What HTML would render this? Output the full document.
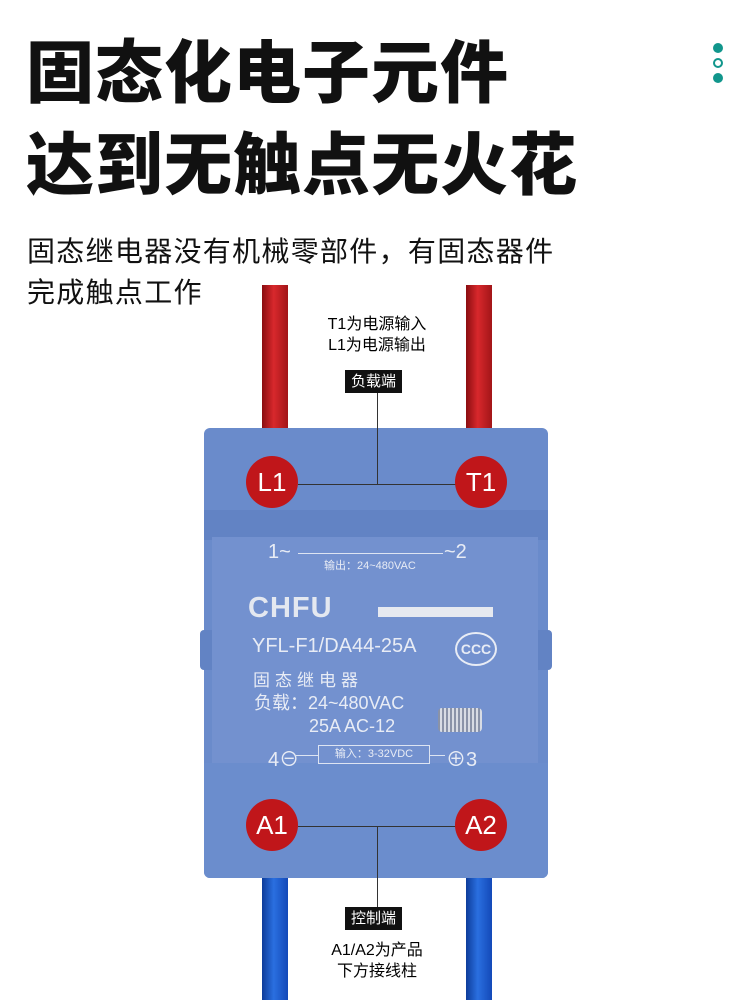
<!DOCTYPE html>
<html><head><meta charset="utf-8"><style>
body{margin:0;width:750px;height:1000px;background:#fff;position:relative;overflow:hidden;font-family:"Liberation Sans","Noto Sans CJK SC",sans-serif}
.a{position:absolute}
.t{font-weight:900;font-size:68px;color:#111;left:26px;letter-spacing:1px;line-height:1}
.s{font-size:28px;color:#111;left:27px;line-height:1;letter-spacing:1.3px}
.wr{background:linear-gradient(90deg,#8a0d10,#d8282c 45%,#a21518);width:26px}
.wb{background:linear-gradient(90deg,#0d3c9a,#2a6fe0 45%,#1349b8);width:26px}
.c{width:52px;height:52px;border-radius:50%;background:#c0161a;color:#fff;font-size:26px;text-align:center;line-height:52px;font-family:"Liberation Sans",sans-serif}
.lb{background:#111;color:#fff;font-size:15px;padding:0 6px;line-height:23px}
.pt{color:#e8ecf5;font-family:"Liberation Sans","Noto Sans CJK SC",sans-serif}
</style></head><body>
<div class="a t" style="top:40px">固态化电子元件</div>
<div class="a t" style="top:132px">达到无触点无火花</div>
<div class="a s" style="top:238px">固态继电器没有机械零部件，有固态器件</div>
<div class="a s" style="top:279px">完成触点工作</div>
<div class="a" style="left:713px;top:43px;width:10px;height:10px;border-radius:50%;background:#11968c"></div>
<div class="a" style="left:713px;top:58px;width:6px;height:6px;border-radius:50%;border:2px solid #11968c"></div>
<div class="a" style="left:713px;top:73px;width:10px;height:10px;border-radius:50%;background:#11968c"></div>

<div class="a wr" style="left:262px;top:285px;height:150px"></div>
<div class="a wr" style="left:466px;top:285px;height:150px"></div>
<div class="a wb" style="left:262px;top:870px;height:130px"></div>
<div class="a wb" style="left:466px;top:870px;height:130px"></div>

<div class="a" style="left:316px;top:314px;font-size:16px;line-height:21px;text-align:center;width:122px">T1为电源输入<br>L1为电源输出</div>
<div class="a lb" style="left:345px;top:370px">负载端</div>

<div class="a" style="left:204px;top:428px;width:344px;height:450px;background:#6a8bcb;border-radius:6px"></div>
<div class="a" style="left:204px;top:510px;width:344px;height:30px;background:#6283c4"></div>
<div class="a" style="left:200px;top:630px;width:352px;height:40px;background:#6283c4;border-radius:4px"></div>
<div class="a" style="left:204px;top:763px;width:344px;height:115px;background:#6b8dcd;border-radius:0 0 6px 6px"></div>
<div class="a" style="left:212px;top:537px;width:326px;height:226px;background:#7391cf"></div>

<div class="a" style="left:377px;top:393px;width:1px;height:92px;background:#333"></div>
<div class="a" style="left:298px;top:484px;width:158px;height:1px;background:#333"></div>
<div class="a" style="left:298px;top:826px;width:158px;height:1px;background:#333"></div>
<div class="a" style="left:377px;top:826px;width:1px;height:82px;background:#333"></div>
<div class="a c" style="left:246px;top:456px">L1</div>
<div class="a c" style="left:455px;top:456px">T1</div>
<div class="a c" style="left:246px;top:799px">A1</div>
<div class="a c" style="left:455px;top:799px">A2</div>

<div class="a pt" style="left:268px;top:541px;font-size:20px">1~</div>
<div class="a" style="left:298px;top:553px;width:145px;height:1px;background:#dde4f2"></div>
<div class="a pt" style="left:444px;top:541px;font-size:20px">~2</div>
<div class="a pt" style="left:324px;top:557px;font-size:11px">输出：24~480VAC</div>
<div class="a pt" style="left:248px;top:592px;font-size:29px;font-weight:900;letter-spacing:1px;color:#e4e8f0">CHFU</div>
<div class="a" style="left:378px;top:607px;width:115px;height:10px;background:#e6e9f0"></div>
<div class="a pt" style="left:252px;top:635px;font-size:20px">YFL-F1/DA44-25A</div>
<div class="a" style="left:455px;top:632px;width:38px;height:30px;border:2px solid #e8ecf5;border-radius:50%;color:#e8ecf5;font-size:14px;text-align:center;line-height:30px;font-weight:bold">CCC</div>
<div class="a pt" style="left:253px;top:666px;font-size:17px;letter-spacing:5px">固态继电器</div>
<div class="a pt" style="left:254px;top:692px;font-size:18px;line-height:23px">负载：24~480VAC<br>&nbsp;&nbsp;&nbsp;&nbsp;&nbsp;&nbsp;&nbsp;&nbsp;&nbsp;&nbsp;&nbsp;25A AC-12</div>
<div class="a" style="left:438px;top:708px;width:44px;height:24px;background:repeating-linear-gradient(90deg,#8a93a8 0 2px,#d8dce4 2px 4px);border-radius:4px"></div>
<div class="a pt" style="left:268px;top:743px;font-size:20px">4⊖</div>
<div class="a" style="left:295px;top:755px;width:150px;height:1px;background:#dde4f2"></div>
<div class="a pt" style="left:318px;top:745px;width:110px;height:17px;border:1px solid #dde4f2;background:#7391cf;font-size:11px;text-align:center;line-height:17px">输入：3-32VDC</div>
<div class="a pt" style="left:446px;top:743px;font-size:20px">⊕3</div>

<div class="a lb" style="left:345px;top:907px">控制端</div>
<div class="a" style="left:314px;top:940px;font-size:16px;line-height:21px;text-align:center;width:126px">A1/A2为产品<br>下方接线柱</div>
</body></html>
